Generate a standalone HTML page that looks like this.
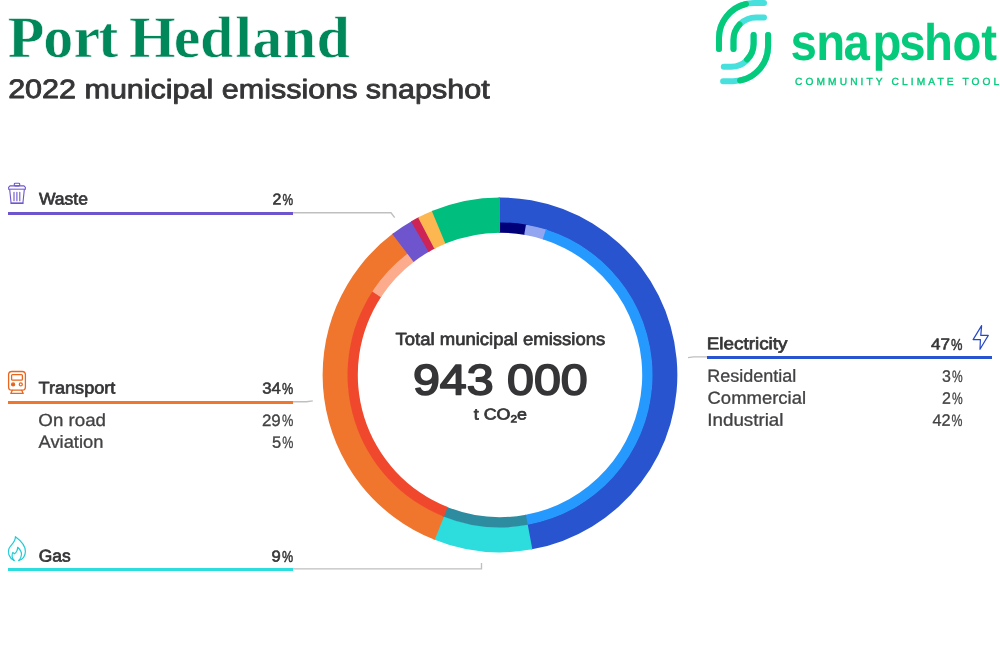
<!DOCTYPE html>
<html lang="en">
<head>
<meta charset="utf-8">
<title>Port Hedland – 2022 municipal emissions snapshot</title>
<style>
html,body{margin:0;padding:0;background:#fff;}
body{width:1000px;height:670px;overflow:hidden;position:relative;font-family:"Liberation Sans",sans-serif;}
svg{display:block;position:absolute;left:0;top:0;}
text{font-family:"Liberation Sans",sans-serif;fill:#353537;}
.serif{font-family:"Liberation Serif",serif;font-weight:bold;fill:#00875a;stroke:#fff;stroke-width:0.6px;}
.med{stroke:#353537;stroke-width:0.7px;paint-order:stroke;stroke-linejoin:round;}
.mp{stroke-width:0.6px;}
.m7{stroke-width:0.85px;}
.sb{stroke:#3a3a3c;stroke-width:0.8px;paint-order:stroke;stroke-linejoin:round;}
.num{stroke:#353537;stroke-width:1.7px;paint-order:stroke;stroke-linejoin:round;}
.pc{stroke-width:0.5px;}
.b{font-weight:bold;}
.lg{fill:#05ca7b;letter-spacing:3.15px;stroke:#05ca7b;stroke-width:0.35px;}
.lgt{fill:#05ca7b;}
.sub{fill:#424244;stroke:#424244;stroke-width:0.3px;}
.ps{stroke-width:0.3px;}
.lead{fill:none;stroke:#bfbfbf;stroke-width:1.35;}

</style>
</head>
<body>
<svg width="1000" height="670" viewBox="0 0 1000 670">
<!-- logo -->
<g id="logo" fill="none" stroke-width="6" stroke-linecap="round">
  <g stroke="#48e0dc">
    <path d="M764,3H754A35,35 0 0 0 719,38V49"/>
    <path d="M764,17.4H756A22.5,22.5 0 0 0 733.5,40V49"/>
    <path d="M753.6,35V44A22.5,22.5 0 0 1 731,66.7H723.8"/>
    <path d="M768.1,35V46A35,35 0 0 1 733,81.2H723.1"/>
  </g>
  <g stroke="#05ca7b">
    <path d="M746,4A35,35 0 0 0 719,38V49"/>
    <path d="M739.5,24.5A22.5,22.5 0 0 0 733.5,40V49"/>
    <path d="M753.6,35V44A22.5,22.5 0 0 1 747,59.5"/>
    <path d="M768.1,35V46A35,35 0 0 1 740,80.5"/>
  </g>
</g>

<!-- donut -->
<g id="donut">
<path fill="#2855cf" d="M498.45,197.51A177.4,177.4 0 0,1 530.81,549.60L526.38,524.49A151.9,151.9 0 0,0 498.67,223.01Z"/>
<path fill="#2ddcdc" d="M532.33,549.33A177.4,177.4 0 0,1 433.26,539.27L442.85,515.64A151.9,151.9 0 0,0 527.68,524.26Z"/>
<path fill="#f0762d" d="M434.69,539.84A177.4,177.4 0 0,1 393.49,233.04L408.80,253.43A151.9,151.9 0 0,0 444.08,516.13Z"/>
<path fill="#000078" d="M498.67,222.41A152.5,152.5 0 0,1 527.27,224.86L525.43,234.99A142.2,142.2 0 0,0 498.76,232.71Z"/>
<path fill="#91a5f0" d="M525.96,224.63A152.5,152.5 0 0,1 547.13,229.86L543.94,239.66A142.2,142.2 0 0,0 524.20,234.77Z"/>
<path fill="#2699ff" d="M545.86,229.46A152.5,152.5 0 0,1 526.48,525.08L524.69,514.94A142.2,142.2 0 0,0 542.76,239.28Z"/>
<path fill="#2d8ca0" d="M527.79,524.85A152.5,152.5 0 0,1 442.63,516.20L446.50,506.65A142.2,142.2 0 0,0 525.91,514.72Z"/>
<path fill="#f0482d" d="M443.86,516.69A152.5,152.5 0 0,1 372.98,290.51L381.56,296.21A142.2,142.2 0 0,0 447.65,507.11Z"/>
<path fill="#fcac8c" d="M372.25,291.62A152.5,152.5 0 0,1 408.44,252.95L414.62,261.18A142.2,142.2 0 0,0 380.88,297.24Z"/>
<path fill="#6e55cd" d="M392.25,233.97A177.4,177.4 0 0,1 412.37,220.65L429.76,251.26A142.2,142.2 0 0,0 413.63,261.93Z"/>
<path fill="#cd2355" d="M411.03,221.42A177.4,177.4 0 0,1 419.46,216.84L435.44,248.20A142.2,142.2 0 0,0 428.69,251.88Z"/>
<path fill="#fcb750" d="M418.09,217.54A177.4,177.4 0 0,1 433.26,210.53L446.50,243.15A142.2,142.2 0 0,0 434.34,248.77Z"/>
<path fill="#00be7d" d="M431.83,211.12A177.4,177.4 0 0,1 500.00,197.50L500.00,232.70A142.2,142.2 0 0,0 445.35,243.62Z"/>
</g>

<!-- leader lines and rules -->
<path class="lead" d="M293,212.75H391L394.7,217.7"/>
<rect x="8" y="212" width="285" height="3" fill="#6e55cd"/>
<path class="lead" d="M293,401.7H306.5L312.8,400.8"/>
<rect x="8" y="401" width="285" height="3" fill="#f0762d"/>
<path class="lead" d="M293,568.9H481.5V563"/>
<rect x="8" y="568" width="285" height="3" fill="#2ddcdc"/>
<path class="lead" d="M688,357.6L693.6,356.8H707"/>
<rect x="707" y="356" width="285" height="3" fill="#2855cf"/>

<!-- icons -->
<g id="ico-waste" fill="none" stroke="#6e55cd" stroke-width="1.1" stroke-linejoin="round" stroke-linecap="round">
  <rect x="14.3" y="183.3" width="5.4" height="2.6" rx="0.8"/>
  <path d="M8.6,189.2V187.4L10,185.9H24L25.4,187.4V189.2"/>
  <path d="M8.8,189.3H25.2" stroke="#9c8ae0" stroke-width="1.5"/>
  <path d="M9.7,189.6L11.1,203.2H22.9L24.3,189.6"/>
  <path d="M11.1,203.3H22.9" stroke-width="1.4"/>
  <path d="M14,192.3V200.7M16.9,192.3V200.7M19.8,192.3V200.7"/>
</g>
<g id="ico-transport" fill="none" stroke="#e8661e" stroke-width="1.3" stroke-linejoin="round" stroke-linecap="round">
  <rect x="8.6" y="371.5" width="16.8" height="18.6" rx="3.2"/>
  <rect x="11.6" y="374.6" width="10.8" height="5.6" rx="1"/>
  <circle cx="13.1" cy="384.4" r="1.5" fill="#e0601c"/>
  <circle cx="20.8" cy="384.4" r="1.5"/>
  <path d="M12.2,390.4L10.8,393.4H23.2L21.8,390.4"/>
</g>
<g id="ico-gas" fill="none" stroke="#22cbd6" stroke-width="1.2" stroke-linejoin="round" stroke-linecap="round">
  <path d="M14.1,560.5C8.5,557.5 7.5,552 9,548.5C11,544.5 15.6,542 15.4,536.7C20,540 25.5,545.5 25.4,551.5C25.3,556 22.5,559.3 18.8,560.5"/>
  <path d="M14.1,560.5C12,558 11.3,555.5 12.8,552.5L14.5,553.8C16.5,552.5 17.5,550 17.7,547.3C20,549.5 21.7,552 21.5,554.5C21.3,557 20.3,559 18.8,560.5"/>
</g>
<g id="ico-elec" fill="none" stroke="#2446cc" stroke-width="1.2" stroke-linejoin="round">
  <path d="M981.6,325.6L973.1,339.6H980.4L980,349.3L988.3,335.4H980.8Z"/>
</g>

<!-- text -->
<text class="serif" font-size="58.8" x="7.6 42.47 72.01 96.45 111.44 126.44 170.33 196.03 230.63 247.34 277.16 310.29" y="0" transform="translate(0,57.0) rotate(0.03) scale(1.02,1)">Port Hedland</text>
<text class="med m7" font-size="26.8" transform="translate(8.16,98.1) rotate(0.03) scale(1.1387,1)">2022 municipal emissions snapshot</text>
<text class="b lgt" font-size="51.5" x="859.26 887.17 916.96 948.27 977.58 1004.45 1035.46 1066.57" y="0" transform="translate(0,59.5) rotate(0.03) scale(0.92,1)">snapshot</text>
<text class="lg" font-size="10.3" transform="translate(795.0,84.9) rotate(0.03) scale(0.9884,1)">COMMUNITY CLIMATE TOOL</text>
<text class="med" font-size="17.6" transform="translate(395.6,345.0) rotate(0.03) scale(1.0506,1)">Total municipal emissions</text>
<text class="num" font-size="42.8" transform="translate(412.97,394.4) rotate(0.03) scale(1.1294,1)">943 000</text>
<text class="med" font-size="15.7" transform="translate(473.72,419.4) rotate(0.03) scale(1.1373,1)">t CO<tspan font-size="10.5" dy="3">2</tspan><tspan dy="-3">e</tspan></text>
<text class="med" font-size="16.9" transform="translate(38.89,204.6) rotate(0.03) scale(1.0385,1)">Waste</text>
<text class="med mp" font-size="15.8" transform="translate(272.5,204.6) rotate(0.03) scale(1.0031,1)">2<tspan class="pc" dx="1.1" textLength="10.59" lengthAdjust="spacingAndGlyphs">%</tspan></text>
<text class="med" font-size="16.9" transform="translate(38.5,393.5) rotate(0.03) scale(1.0736,1)">Transport</text>
<text class="med mp" font-size="15.8" transform="translate(262.2,393.5) rotate(0.03) scale(1.0592,1)">34<tspan class="pc" dx="1.1" textLength="10.59" lengthAdjust="spacingAndGlyphs">%</tspan></text>
<text class="sub" font-size="17.5" transform="translate(38.33,426.0) rotate(0.03) scale(1.0705,1)">On road</text>
<text class="sub" font-size="16.5" transform="translate(261.93,426.0) rotate(0.03) scale(1.0258,1)">29<tspan class="ps" dx="1.1" textLength="11.06" lengthAdjust="spacingAndGlyphs">%</tspan></text>
<text class="sub" font-size="17.5" transform="translate(38.54,447.8) rotate(0.03) scale(1.0485,1)">Aviation</text>
<text class="sub" font-size="16.5" transform="translate(271.89,447.8) rotate(0.03) scale(1.0052,1)">5<tspan class="ps" dx="1.1" textLength="11.06" lengthAdjust="spacingAndGlyphs">%</tspan></text>
<text class="med" font-size="16.9" transform="translate(38.8,561.5) rotate(0.03) scale(1.0323,1)">Gas</text>
<text class="med mp" font-size="15.8" transform="translate(271.5,561.5) rotate(0.03) scale(1.0521,1)">9<tspan class="pc" dx="1.1" textLength="10.59" lengthAdjust="spacingAndGlyphs">%</tspan></text>
<text class="med" font-size="16.9" transform="translate(706.78,349.3) rotate(0.03) scale(1.116,1)">Electricity</text>
<text class="med mp" font-size="15.8" transform="translate(930.9,349.5) rotate(0.03) scale(1.0798,1)">47<tspan class="pc" dx="1.1" textLength="10.59" lengthAdjust="spacingAndGlyphs">%</tspan></text>
<text class="sub" font-size="17.5" transform="translate(707.27,381.8) rotate(0.03) scale(1.0282,1)">Residential</text>
<text class="sub" font-size="16.5" transform="translate(942.01,381.8) rotate(0.03) scale(0.9661,1)">3<tspan class="ps" dx="1.1" textLength="11.06" lengthAdjust="spacingAndGlyphs">%</tspan></text>
<text class="sub" font-size="17.5" transform="translate(707.52,403.8) rotate(0.03) scale(1.056,1)">Commercial</text>
<text class="sub" font-size="16.5" transform="translate(941.96,403.8) rotate(0.03) scale(0.9683,1)">2<tspan class="ps" dx="1.1" textLength="11.06" lengthAdjust="spacingAndGlyphs">%</tspan></text>
<text class="sub" font-size="17.5" transform="translate(707.33,425.8) rotate(0.03) scale(1.0725,1)">Industrial</text>
<text class="sub" font-size="16.5" transform="translate(932.4,425.8) rotate(0.03) scale(0.9873,1)">42<tspan class="ps" dx="1.1" textLength="11.06" lengthAdjust="spacingAndGlyphs">%</tspan></text>
</svg>
</body>
</html>
